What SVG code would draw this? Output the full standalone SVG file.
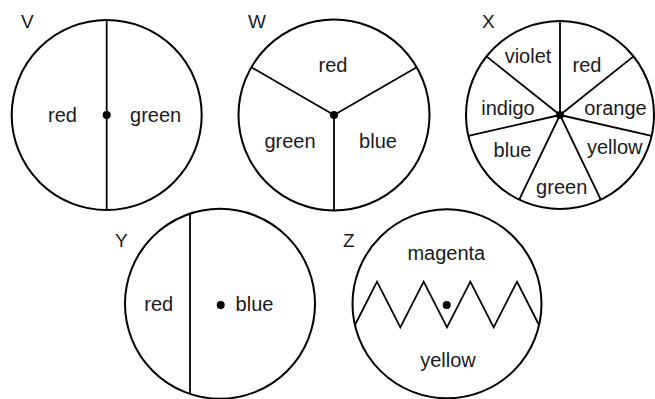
<svg xmlns="http://www.w3.org/2000/svg" width="655" height="399" viewBox="0 0 655 399">
<style>
.c{fill:none;stroke:#000;stroke-width:2}
.l{fill:none;stroke:#000;stroke-width:1.8;stroke-linejoin:miter}
.d{fill:#000}
text{font-family:"Liberation Sans",Arial,sans-serif;font-size:20px;fill:#1a1a1a}
.m{text-anchor:middle}
.t{font-size:19px}
</style>
<rect width="655" height="399" fill="#fff"/>
<g id="V">
<circle class="c" cx="106.7" cy="115" r="95"/>
<line class="l" x1="106.7" y1="20" x2="106.7" y2="210"/>
<circle class="d" cx="106.7" cy="115" r="4"/>
<text class="t" x="21" y="28">V</text>
<text class="m" x="62.5" y="122">red</text>
<text class="m" x="155.6" y="122">green</text>
</g>
<g id="W">
<circle class="c" cx="334" cy="115" r="95.5"/>
<path class="l" d="M251.3,67.25 L334,115 L416.7,67.25 M334,115 L334,210.5"/>
<circle class="d" cx="334" cy="115" r="4"/>
<text class="t" x="248" y="28">W</text>
<text class="m" x="333" y="72">red</text>
<text class="m" x="290" y="148">green</text>
<text class="m" x="378" y="148">blue</text>
</g>
<g id="X">
<circle class="c" cx="560" cy="115" r="94"/>
<path class="l" d="M560,115 L560,21 M560,115 L633.5,56.4 M560,115 L651.6,135.9 M560,115 L600.8,199.7 M560,115 L519.2,199.7 M560,115 L468.4,135.9 M560,115 L486.5,56.4"/>
<circle class="d" cx="560" cy="115" r="4"/>
<text class="t" x="482" y="28">X</text>
<text class="m" x="528" y="63">violet</text>
<text class="m" x="587" y="72">red</text>
<text class="m" x="508" y="115">indigo</text>
<text class="m" x="615.5" y="115">orange</text>
<text class="m" x="512.5" y="157">blue</text>
<text class="m" x="614.7" y="154">yellow</text>
<text class="m" x="561.7" y="194">green</text>
</g>
<g id="Y">
<circle class="c" cx="220" cy="303.8" r="95"/>
<line class="l" x1="190" y1="213.7" x2="190" y2="393.9"/>
<circle class="d" cx="220.7" cy="305" r="4"/>
<text class="t" x="115" y="247">Y</text>
<text class="m" x="158.7" y="311">red</text>
<text class="m" x="254.5" y="311">blue</text>
</g>
<g id="Z">
<circle class="c" cx="447" cy="303.8" r="94.5"/>
<path class="l" d="M355,325 L377,281.7 L400.33,327.3 L423.67,281.7 L447,327.3 L470.33,281.7 L493.67,327.3 L517,281.7 L539,325"/>
<circle class="d" cx="446.7" cy="305" r="4"/>
<text class="t" x="343" y="247">Z</text>
<text class="m" x="446.3" y="260">magenta</text>
<text class="m" x="448" y="367">yellow</text>
</g>
</svg>
